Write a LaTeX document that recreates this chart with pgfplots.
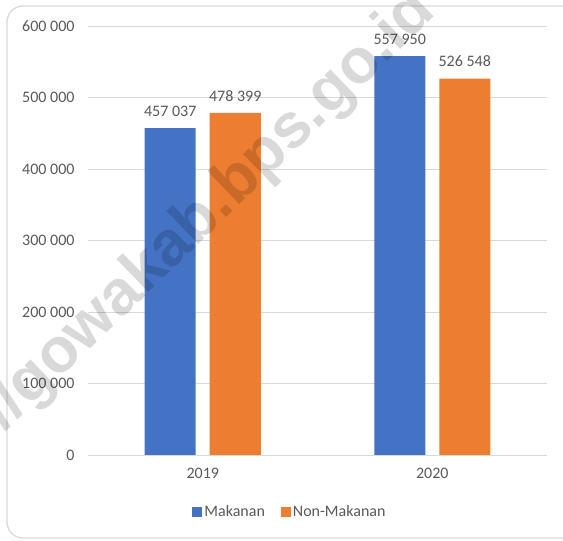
\documentclass[border=0pt]{standalone}
\usepackage{fontspec}
\setmainfont{Carlito}
\newfontfamily\wmfont{Liberation Sans}
\usepackage{pgfplots}
\pgfplotsset{compat=1.18}
\definecolor{mkblue}{HTML}{4472C4}
\definecolor{mkorange}{HTML}{ED7D31}
\definecolor{txtgray}{HTML}{595959}
\definecolor{gridgray}{HTML}{D9D9D9}
\begin{document}
\begin{tikzpicture}[x=1pt,y=1pt]
\useasboundingbox (0,0) rectangle (563,541);
\draw[gridgray, line width=1.3pt, rounded corners=16pt] (7,3) rectangle (580,535);
\begin{axis}[
  at={(88pt,86pt)}, anchor=south west,
  scale only axis, width=459pt, height=429pt,
  ybar=14pt, bar width=51pt,
  xmin=-0.5, xmax=1.5, ymin=0, ymax=600000,
  scaled y ticks=false,
  xtick={0,1}, xticklabels={2019,2020},
  ytick={0,100000,200000,300000,400000,500000,600000},
  yticklabels={0,100 000,200 000,300 000,400 000,500 000,600 000},
  axis x line*=bottom, axis y line*=left,
  y axis line style={draw=none},
  x axis line style={gridgray, line width=0.9pt},
  ymajorgrids, grid style={gridgray, line width=0.9pt},
  major tick length=0pt,
  tick label style={font=\fontsize{16}{18}\selectfont, text=txtgray},
  yticklabel style={xshift=-10pt},
  xticklabel style={yshift=-10pt},
  nodes near coords, point meta=explicit symbolic,
  nodes near coords style={font=\fontsize{16}{18}\selectfont, text=txtgray, yshift=8pt},
  legend style={at={(0.44,-0.133)}, anchor=center, draw=none, legend columns=2,
    font=\fontsize{16}{18}\selectfont, text=txtgray,
    /tikz/every even column/.append style={column sep=14pt}},
  legend image code/.code={\fill[#1] (0pt,-5pt) rectangle (10pt,5pt);},
]
\addplot[fill=mkblue, draw=none] coordinates {(0,457037) [457 037] (1,557950) [557 950]};
\addlegendentry{Makanan}
\addplot[fill=mkorange, draw=none] coordinates {(0,478399) [478 399] (1,526548) [526 548]};
\addlegendentry{Non-Makanan}
\end{axis}
% watermark
\begin{scope}
\clip (0,0) rectangle (563,541);
\node[rotate=44, text=black, text opacity=0.15, inner sep=0pt, anchor=base east,
  font=\wmfont\fontsize{63}{63}\selectfont\bfseries] (wa) at (236,333) {https://gowakab.};
\node[rotate=44, text=black, text opacity=0.15, inner sep=0pt, anchor=base west,
  font=\wmfont\fontsize{63}{63}\selectfont\bfseries] at (wa.base east) {bps.go.id};
\end{scope}
\end{tikzpicture}
\end{document}
